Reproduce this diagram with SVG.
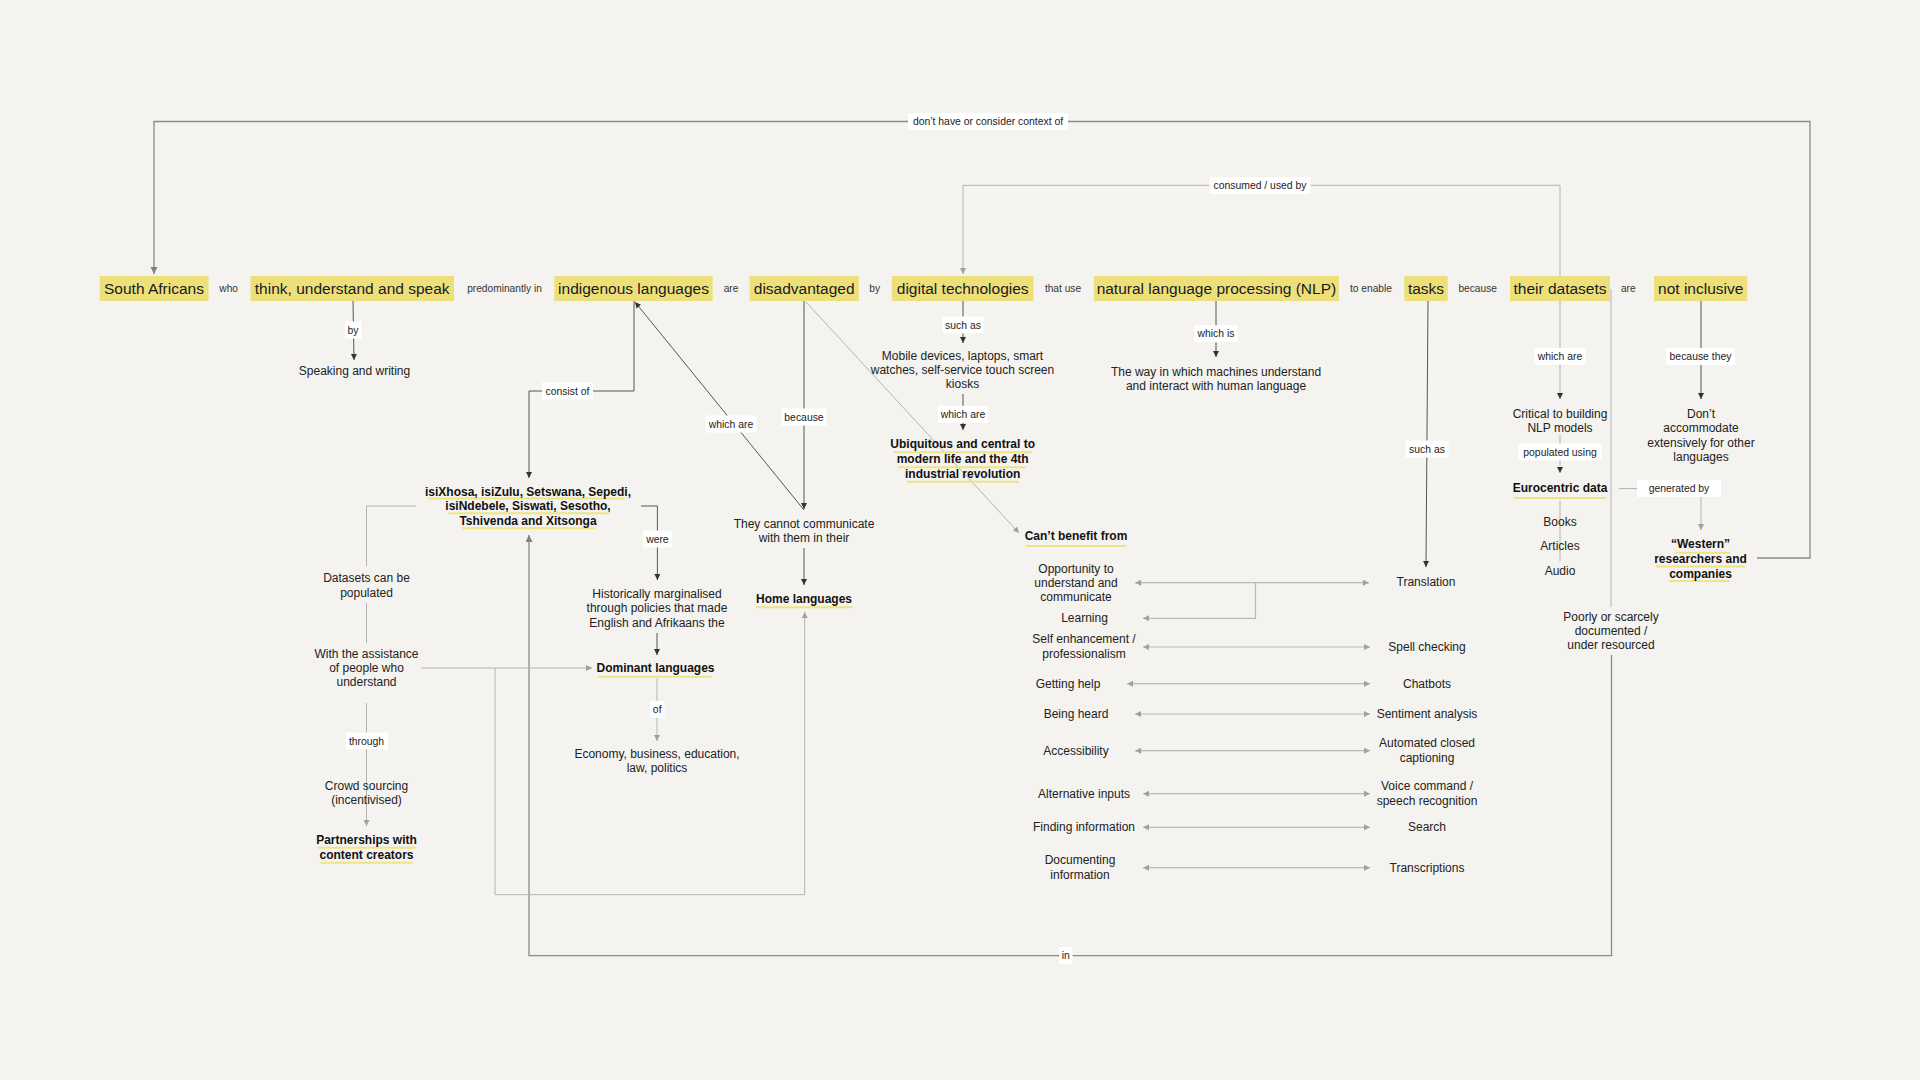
<svg xmlns="http://www.w3.org/2000/svg" width="1920" height="1080" viewBox="0 0 1920 1080">
<style>
.bg{fill:#F4F3EF}
.hl{fill:#EDE07B}
text{font-family:"Liberation Sans",Arial,Helvetica,sans-serif;fill:#222;text-anchor:middle}
.big{font-size:15.5px;fill:#1a1a1a}
.t{font-size:12px}
.b{font-size:12px;font-weight:bold;fill:#111}
.l{font-size:10.4px;fill:#222}
.tl{font-size:10.2px;fill:#333}
.lb{fill:#fff}
.ul{stroke:#F0E383;stroke-width:2}
.c{fill:none;stroke:#555;stroke-width:1}
.g{fill:none;stroke:#8a8a8a;stroke-width:1.3}
.lt{fill:none;stroke:#b3b3b3;stroke-width:1}
.bi{fill:none;stroke:#b8b8b8;stroke-width:1.2}
</style>
<defs>
<marker id="ad" markerUnits="userSpaceOnUse" markerWidth="8" markerHeight="8" refX="6" refY="3" orient="auto-start-reverse"><path d="M0,0 L6,3 L0,6 z" fill="#333"/></marker>
<marker id="ag" markerUnits="userSpaceOnUse" markerWidth="9" markerHeight="9" refX="7" refY="3.5" orient="auto-start-reverse"><path d="M0,0 L7,3.5 L0,7 z" fill="#808080"/></marker>
<marker id="al" markerUnits="userSpaceOnUse" markerWidth="8" markerHeight="8" refX="6" refY="3" orient="auto-start-reverse"><path d="M0,0 L6,3 L0,6 z" fill="#a0a0a0"/></marker>
</defs>
<rect class="bg" x="0" y="0" width="1920" height="1080"/>

<g id="connectors">
  <path class="g" d="M1757,558 H1810 V121.5 H154 V274" marker-end="url(#ag)"/>
  <path class="lt" d="M1560,276 V185.3 H963 V274" marker-end="url(#al)"/>
  <path class="c" d="M353,301 L354,360" marker-end="url(#ad)"/>
  <path class="c" d="M634,301 V391 H529 V478" marker-end="url(#ad)"/>
  <path class="c" d="M804,510 L635,302" marker-end="url(#ad)"/>
  <path class="c" d="M804,301 V509" marker-end="url(#ad)"/>
  <path class="lt" d="M806,302 L1019,533" marker-end="url(#al)" stroke="#999"/>
  <path class="c" d="M963,301 V343" marker-end="url(#ad)"/>
  <path class="c" d="M963,394 V430" marker-end="url(#ad)"/>
  <path class="c" d="M1216,301 V357" marker-end="url(#ad)"/>
  <path class="c" d="M1428,301 L1426,567" marker-end="url(#ad)"/>
  <path class="lt" d="M1560,301 V399" marker-end="url(#ad)"/>
  <path class="lt" d="M1560,435 V473" marker-end="url(#ad)"/>
  <path class="lt" d="M1560,501 V561" stroke="#d2d2d2"/>
  <path class="lt" d="M1619,488.6 H1701 V530" marker-end="url(#al)"/>
  <path class="c" d="M1701,301 V399" marker-end="url(#ad)"/>
  <path class="lt" d="M1611,289 V607"/>
  <path class="g" d="M1611.5,655 V955.7 H529 V535" marker-end="url(#ag)"/>
  <path class="lt" d="M416,506 H366.5 V566"/>
  <path class="lt" d="M366.5,603 V643"/>
  <path class="lt" d="M366.5,703 V826" marker-end="url(#al)"/>
  <path class="c" d="M641,506 H657.4 V580" marker-end="url(#ad)"/>
  <path class="c" d="M657,633 V655" marker-end="url(#ad)"/>
  <path class="lt" d="M657,678 V741" marker-end="url(#al)"/>
  <path class="c" d="M804,548 V585" marker-end="url(#ad)"/>
  <path class="lt" d="M421,668 H592" marker-end="url(#al)"/>
  <path class="lt" d="M495,668 V894.7 H804.7 V612" marker-end="url(#al)"/>
  <path class="bi" d="M1135,582.7 H1369" marker-start="url(#al)" marker-end="url(#al)"/>
  <path class="bi" d="M1255.5,582.7 V618.3 H1143" marker-end="url(#al)"/>
  <path class="bi" d="M1143,647 H1370" marker-start="url(#al)" marker-end="url(#al)"/>
  <path class="bi" d="M1127,683.7 H1370" marker-start="url(#al)" marker-end="url(#al)"/>
  <path class="bi" d="M1135,714 H1370" marker-start="url(#al)" marker-end="url(#al)"/>
  <path class="bi" d="M1135,750.7 H1370" marker-start="url(#al)" marker-end="url(#al)"/>
  <path class="bi" d="M1143,793.7 H1370" marker-start="url(#al)" marker-end="url(#al)"/>
  <path class="bi" d="M1143,827.3 H1370" marker-start="url(#al)" marker-end="url(#al)"/>
  <path class="bi" d="M1143,867.7 H1370" marker-start="url(#al)" marker-end="url(#al)"/>

  <rect class="lb" x="908" y="113" width="160" height="17"/><text class="l" x="988" y="125.2">don’t have or consider context of</text>
  <rect class="lb" x="1209.5" y="177" width="101" height="17"/><text class="l" x="1260" y="189.2">consumed / used by</text>
  <rect class="lb" x="345" y="321.5" width="16.5" height="17"/><text class="l" x="353" y="333.7">by</text>
  <rect class="lb" x="542" y="382.5" width="51" height="17"/><text class="l" x="567.5" y="394.7">consist of</text>
  <rect class="lb" x="705.5" y="415.5" width="51" height="17"/><text class="l" x="731" y="427.7">which are</text>
  <rect class="lb" x="781.5" y="408.5" width="45" height="17"/><text class="l" x="804" y="420.7">because</text>
  <rect class="lb" x="942.5" y="316.5" width="41" height="17"/><text class="l" x="963" y="328.7">such as</text>
  <rect class="lb" x="937.7" y="405.8" width="50.6" height="17"/><text class="l" x="963" y="418">which are</text>
  <rect class="lb" x="1194" y="325.2" width="44" height="17"/><text class="l" x="1216" y="337.4">which is</text>
  <rect class="lb" x="1405.7" y="440.5" width="42.7" height="17"/><text class="l" x="1427" y="452.7">such as</text>
  <rect class="lb" x="1534.5" y="347.9" width="51" height="17"/><text class="l" x="1560" y="360.1">which are</text>
  <rect class="lb" x="1518.5" y="443.5" width="83" height="17"/><text class="l" x="1560" y="455.7">populated using</text>
  <rect class="lb" x="1637" y="480" width="84" height="17"/><text class="l" x="1679" y="492.2">generated by</text>
  <rect class="lb" x="1666" y="347.9" width="69" height="17"/><text class="l" x="1700.5" y="360.1">because they</text>
  <rect class="lb" x="1059" y="947" width="13.5" height="17"/><text class="l" x="1065.8" y="959.2">in</text>
  <rect class="lb" x="346" y="732.5" width="42" height="17"/><text class="l" x="366.5" y="744.7">through</text>
  <rect class="lb" x="643" y="530.5" width="28.7" height="17"/><text class="l" x="657.4" y="542.7">were</text>
  <rect class="lb" x="650" y="700.8" width="14.5" height="17"/><text class="l" x="657.2" y="713">of</text>

  <text class="tl" x="228.7" y="291.5">who</text>
  <text class="tl" x="504.5" y="291.5">predominantly in</text>
  <text class="tl" x="731" y="291.5">are</text>
  <text class="tl" x="874.7" y="291.5">by</text>
  <text class="tl" x="1063" y="291.5">that use</text>
  <text class="tl" x="1371" y="291.5">to enable</text>
  <text class="tl" x="1477.7" y="291.5">because</text>
  <text class="tl" x="1628.3" y="291.5">are</text>
</g>

<g id="south-africans"><rect class="hl" x="99.6" y="276" width="109" height="25"/><text class="big" x="154" y="294">South Africans</text></g>
<g id="think"><rect class="hl" x="250.5" y="276" width="203.5" height="25"/><text class="big" x="352.2" y="294">think, understand and speak</text></g>
<g id="indigenous"><rect class="hl" x="554.3" y="276" width="158.4" height="25"/><text class="big" x="633.5" y="294">indigenous languages</text></g>
<g id="disadvantaged"><rect class="hl" x="749.6" y="276" width="109.2" height="25"/><text class="big" x="804.2" y="294">disadvantaged</text></g>
<g id="digital"><rect class="hl" x="891.8" y="276" width="141.7" height="25"/><text class="big" x="962.7" y="294">digital technologies</text></g>
<g id="nlp"><rect class="hl" x="1093.9" y="276" width="245" height="25"/><text class="big" x="1216.4" y="294">natural language processing (NLP)</text></g>
<g id="tasks"><rect class="hl" x="1404.3" y="276" width="43.4" height="25"/><text class="big" x="1426" y="294">tasks</text></g>
<g id="datasets"><rect class="hl" x="1510" y="276" width="100" height="25"/><text class="big" x="1560" y="294">their datasets</text></g>
<g id="not-inclusive"><rect class="hl" x="1654" y="276" width="93.3" height="25"/><text class="big" x="1700.7" y="294">not inclusive</text></g>

<g id="speaking"><text class="t" x="354.5" y="375">Speaking and writing</text></g>

<g id="languages-list">
  <line class="ul" x1="428.3" y1="498.5" x2="625" y2="498.5"/>
  <line class="ul" x1="448.3" y1="513.3" x2="610" y2="513.3"/>
  <line class="ul" x1="462.7" y1="528.3" x2="595" y2="528.3"/>
  <text class="b" x="528" y="495.7">isiXhosa, isiZulu, Setswana, Sepedi,</text>
  <text class="b" x="528" y="510.3">isiNdebele, Siswati, Sesotho,</text>
  <text class="b" x="528" y="525.3">Tshivenda and Xitsonga</text>
</g>

<g id="datasets-populated"><text class="t" x="366.5" y="582.3">Datasets can be</text><text class="t" x="366.5" y="596.7">populated</text></g>
<g id="assistance"><text class="t" x="366.5" y="657.7">With the assistance</text><text class="t" x="366.5" y="672">of people who</text><text class="t" x="366.5" y="686.3">understand</text></g>
<g id="crowd"><text class="t" x="366.5" y="789.7">Crowd sourcing</text><text class="t" x="366.5" y="804">(incentivised)</text></g>
<g id="partnerships">
  <line class="ul" x1="317.6" y1="847.7" x2="415.5" y2="847.7"/>
  <line class="ul" x1="320.6" y1="862.7" x2="412.5" y2="862.7"/>
  <text class="b" x="366.5" y="844">Partnerships with</text><text class="b" x="366.5" y="859">content creators</text>
</g>

<g id="historically"><text class="t" x="657" y="598">Historically marginalised</text><text class="t" x="657" y="612.3">through policies that made</text><text class="t" x="657" y="626.7">English and Afrikaans the</text></g>
<g id="dominant"><line class="ul" x1="598" y1="676.7" x2="711.7" y2="676.7"/><text class="b" x="655.5" y="672">Dominant languages</text></g>
<g id="economy"><text class="t" x="657" y="758">Economy, business, education,</text><text class="t" x="657" y="772.3">law, politics</text></g>

<g id="cannot"><text class="t" x="804" y="528">They cannot communicate</text><text class="t" x="804" y="542">with them in their</text></g>
<g id="home"><line class="ul" x1="756" y1="607.3" x2="852.6" y2="607.3"/><text class="b" x="804" y="602.7">Home languages</text></g>

<g id="devices"><text class="t" x="962.5" y="359.7">Mobile devices, laptops, smart</text><text class="t" x="962.5" y="374">watches, self-service touch screen</text><text class="t" x="962.5" y="388.3">kiosks</text></g>
<g id="ubiquitous">
  <line class="ul" x1="893.5" y1="452.3" x2="1031.8" y2="452.3"/>
  <line class="ul" x1="898.4" y1="467.3" x2="1026" y2="467.3"/>
  <line class="ul" x1="907" y1="481.8" x2="1018.8" y2="481.8"/>
  <text class="b" x="962.7" y="448.3">Ubiquitous and central to</text><text class="b" x="962.7" y="463.3">modern life and the 4th</text><text class="b" x="962.7" y="478.3">industrial revolution</text>
</g>
<g id="nlp-def"><text class="t" x="1216" y="375.7">The way in which machines understand</text><text class="t" x="1216" y="390">and interact with human language</text></g>

<g id="cant-benefit"><line class="ul" x1="1026" y1="546" x2="1126.5" y2="546"/><text class="b" x="1076" y="539.7">Can’t benefit from</text></g>
<g id="opportunity"><text class="t" x="1076" y="572.7">Opportunity to</text><text class="t" x="1076" y="587">understand and</text><text class="t" x="1076" y="601.3">communicate</text></g>
<g id="learning"><text class="t" x="1084.5" y="622.3">Learning</text></g>
<g id="self"><text class="t" x="1084" y="643.3">Self enhancement /</text><text class="t" x="1084" y="657.7">professionalism</text></g>
<g id="help"><text class="t" x="1068" y="687.7">Getting help</text></g>
<g id="heard"><text class="t" x="1076" y="717.7">Being heard</text></g>
<g id="accessibility"><text class="t" x="1076" y="754.7">Accessibility</text></g>
<g id="alt-inputs"><text class="t" x="1084" y="797.7">Alternative inputs</text></g>
<g id="finding"><text class="t" x="1084" y="831.3">Finding information</text></g>
<g id="documenting"><text class="t" x="1080" y="864.3">Documenting</text><text class="t" x="1080" y="878.7">information</text></g>

<g id="translation"><text class="t" x="1426" y="586.3">Translation</text></g>
<g id="spell"><text class="t" x="1427" y="651">Spell checking</text></g>
<g id="chatbots"><text class="t" x="1427" y="687.7">Chatbots</text></g>
<g id="sentiment"><text class="t" x="1427" y="717.7">Sentiment analysis</text></g>
<g id="captioning"><text class="t" x="1427" y="747.3">Automated closed</text><text class="t" x="1427" y="761.7">captioning</text></g>
<g id="voice"><text class="t" x="1427" y="790.3">Voice command /</text><text class="t" x="1427" y="804.7">speech recognition</text></g>
<g id="search"><text class="t" x="1427" y="831.3">Search</text></g>
<g id="transcriptions"><text class="t" x="1427" y="871.7">Transcriptions</text></g>

<g id="critical"><text class="t" x="1560" y="417.8">Critical to building</text><text class="t" x="1560" y="432">NLP models</text></g>
<g id="eurocentric"><line class="ul" x1="1514" y1="498" x2="1605.7" y2="498"/><text class="b" x="1560" y="492.4">Eurocentric data</text></g>
<g id="books"><text class="t" x="1560" y="526">Books</text></g>
<g id="articles"><text class="t" x="1560" y="550">Articles</text></g>
<g id="audio"><text class="t" x="1560" y="574.7">Audio</text></g>
<g id="poorly"><text class="t" x="1611" y="620.6">Poorly or scarcely</text><text class="t" x="1611" y="634.8">documented /</text><text class="t" x="1611" y="649">under resourced</text></g>
<g id="dont-accommodate"><text class="t" x="1701" y="417.8">Don’t</text><text class="t" x="1701" y="432.2">accommodate</text><text class="t" x="1701" y="446.6">extensively for other</text><text class="t" x="1701" y="460.7">languages</text></g>
<g id="western">
  <line class="ul" x1="1675.3" y1="552.7" x2="1730" y2="552.7"/>
  <line class="ul" x1="1656" y1="566.5" x2="1745" y2="566.5"/>
  <line class="ul" x1="1669" y1="581" x2="1730" y2="581"/>
  <text class="b" x="1700.5" y="548">“Western”</text><text class="b" x="1700.5" y="563">researchers and</text><text class="b" x="1700.5" y="578">companies</text>
</g>
</svg>
